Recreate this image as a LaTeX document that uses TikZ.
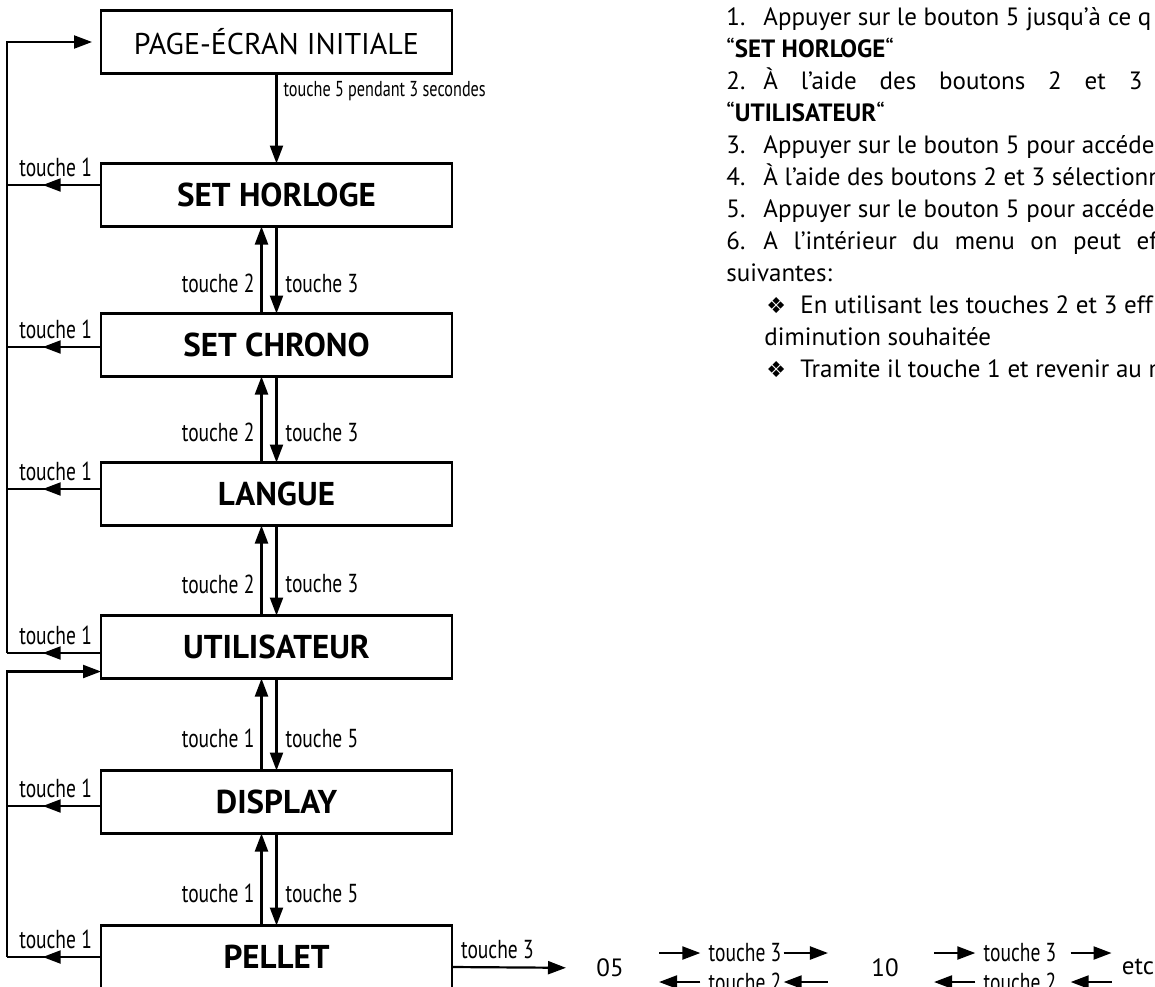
\documentclass[tikz,border=0pt]{standalone}
\usepackage{fontspec}
\setmainfont{PT Sans}
\newfontfamily\condfont[FakeStretch=0.75]{PT Sans}
\newfontfamily\symfont{DejaVu Sans}
\usetikzlibrary{positioning,calc,arrows.meta,decorations.markings}

\begin{document}
\begin{tikzpicture}[
    x=0.5pt, y=-0.5pt,
    menu/.style={draw, line width=1.2pt, minimum width=175.5pt, minimum height=31.5pt, inner sep=0pt, outer sep=0pt, font=\fontsize{15}{18}\selectfont},
    bmenu/.style={menu, font=\fontsize{16.5}{18}\selectfont\bfseries},
    lab/.style={font=\condfont\fontsize{13}{15}\selectfont, inner sep=1pt},
    slab/.style={font=\condfont\fontsize{10.8}{13}\selectfont, inner sep=1pt},
    num/.style={font=\fontsize{12.5}{15}\selectfont, inner sep=0pt},
    txt/.style={anchor=base west, inner sep=0pt, font=\fontsize{12.5}{15}\selectfont},
    arr/.style={-{Triangle[length=9pt,width=6.5pt]}, line width=1.1pt},
    back/.style={line width=1.1pt, postaction={decorate},
        decoration={markings, mark=at position 0.62 with {\arrow{Triangle[length=9pt,width=6.5pt]}}}}
]
    \useasboundingbox (0,0) rectangle (1155,986);

    % menu boxes
    \node[menu] (page) at (276.5,42) {PAGE-ÉCRAN INITIALE};
    \node[bmenu, below=45pt of page] (horloge) {SET HORLOGE};
    \node[bmenu, below=43.5pt of horloge] (chrono) {SET CHRONO};
    \node[bmenu, below=43pt of chrono] (langue) {LANGUE};
    \node[bmenu, below=45pt of langue] (util) {UTILISATEUR};
    \node[bmenu, below=46pt of util] (display) {DISPLAY};
    \node[bmenu, below=46pt of display] (pellet) {PELLET};

    \draw[arr] (page.south) -- (horloge.north)
        node[slab, pos=0.2, anchor=west, xshift=2pt] {touche 5 pendant 3 secondes};

    \foreach \a/\b/\u/\d in {horloge/chrono/2/3, chrono/langue/2/3, langue/util/2/3, util/display/1/5, display/pellet/1/5} {
        \draw[arr] ([xshift=-7.5pt]\b.north) -- ([xshift=-7.5pt]\a.south) node[lab, pos=0.35, left=2pt] {touche \u};
        \draw[arr] (\a.south) -- (\b.north) node[lab, pos=0.65, right=3pt] {touche \d};
    }

    % touche 1 back to the previous screen
    \coordinate (rail) at (7,0);
    \foreach \n/\s in {horloge/5pt, chrono/-1pt, langue/2.5pt, util/-3pt, display/-2pt, pellet/0pt} {
        \coordinate (h\n) at ([yshift=\s]\n.west);
        \draw[back] (h\n) -- (h\n -| rail)
            node[lab, pos=0, anchor=south east, xshift=-3pt, yshift=2.5pt] {touche 1};
    }
    \draw[arr, shorten >=4.5pt] (hutil -| rail) -- (page.west -| rail) -- (page.west);
    \coordinate (inutil) at ([yshift=-12.25pt]util.west);
    \draw[arr] (hpellet -| rail) -- (inutil -| rail) -- (inutil);

    % pellet values
    \node[num] (n05) at (610,968) {05};
    \node[lab] (t3a) at (745,953) {touche 3};
    \node[lab] (t2a) at (745,982) {touche 2};
    \node[num] (n10) at (885,968) {10};
    \node[lab] (t3b) at (1020,953) {touche 3};
    \node[lab] (t2b) at (1020,982) {touche 2};
    \node[num] (etc) at (1138,967) {etc};

    \draw[arr, shorten >=15pt] ([yshift=-5pt]pellet.east) -- (n05.west)
        node[lab, pos=0, anchor=south west, xshift=3pt, yshift=2.5pt] {touche 3};
    \draw[arr, shorten <=17.5pt, shorten >=3pt] (n05.east |- t3a) -- (t3a.west);
    \draw[arr, shorten >=21.5pt] (t3a.east) -- (n10.west |- t3a);
    \draw[arr, shorten <=3pt, shorten >=17.5pt] (t2a.west) -- (n05.east |- t2a);
    \draw[arr, shorten <=21.5pt] (n10.west |- t2a) -- (t2a.east);
    \draw[arr, shorten <=17.5pt, shorten >=3pt] (n10.east |- t3b) -- (t3b.west);
    \draw[arr, shorten <=6pt, shorten >=5pt] (t3b.east) -- (etc.west |- t3b);
    \draw[arr, shorten <=3pt, shorten >=17.5pt] (t2b.west) -- (n10.east |- t2b);
    \draw[arr, shorten <=5pt, shorten >=6pt] (etc.west |- t2b) -- (t2b.east);

    % instructions
    \node[txt] (l1) at (726,25.5) {\makebox[18.5pt][l]{1.}Appuyer sur le bouton 5 jusqu’à ce q};
    \node[txt] (l2) at (726,57) {“\textbf{SET HORLOGE}“};
    \node[txt] (l3) at (726,89) {\makebox[18.5pt][l]{2.}\makebox[189.5pt][s]{À l’aide des boutons 2 et 3}};
    \node[txt] (l4) at (726,121) {“\textbf{UTILISATEUR}“};
    \node[txt] (l5) at (726,153) {\makebox[18.5pt][l]{3.}Appuyer sur le bouton 5 pour accéde};
    \node[txt] (l6) at (726,185) {\makebox[18.5pt][l]{4.}À l’aide des boutons 2 et 3 sélectionn};
    \node[txt] (l7) at (726,217) {\makebox[18.5pt][l]{5.}Appuyer sur le bouton 5 pour accéde};
    \node[txt] (l8) at (726,249) {\makebox[18.5pt][l]{6.}\makebox[197pt][s]{A l’intérieur du menu on peut ef}};
    \node[txt] (l9) at (726,281) {suivantes:};
    \node[txt] (l10) at (766,313) {\makebox[17pt][l]{\symfont\fontsize{11}{13}\selectfont ❖}En utilisant les touches 2 et 3 eff};
    \node[txt] (l11) at (764,345) {diminution souhaitée};
    \node[txt] (l12) at (766,377) {\makebox[17pt][l]{\symfont\fontsize{11}{13}\selectfont ❖}Tramite il touche 1 et revenir au m};
\end{tikzpicture}
\end{document}
